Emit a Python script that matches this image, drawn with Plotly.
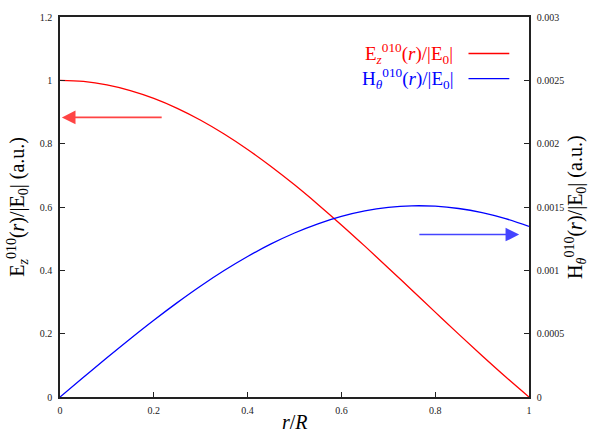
import plotly.graph_objects as go

# Radial profiles of the TM010 mode across the cavity radius
r_over_R = [0.0, 0.05, 0.10, 0.15, 0.20, 0.25, 0.30, 0.35, 0.40, 0.45, 0.50,
            0.55, 0.60, 0.65, 0.70, 0.75, 0.80, 0.85, 0.90, 0.95, 1.0]
ez = [1.0, 0.9964, 0.9856, 0.9677, 0.9430, 0.9117, 0.8741, 0.8306, 0.7817,
      0.7280, 0.6700, 0.6082, 0.5435, 0.4764, 0.4076, 0.3379, 0.2680, 0.1985,
      0.1303, 0.0639, 0.0]
h_theta = [0.0, 0.0001557, 0.0003098, 0.0004605, 0.0006062, 0.0007453,
           0.0008765, 0.0009982, 0.0011092, 0.0012084, 0.0012947, 0.0013672,
           0.0014254, 0.0014687, 0.0014966, 0.0015092, 0.0015063, 0.0014882,
           0.0014553, 0.0014080, 0.0013472]

x_ticks = [0, 0.2, 0.4, 0.6, 0.8, 1]
x_tick_text = ["0", "0.2", "0.4", "0.6", "0.8", "1"]
y1_ticks = [0, 0.2, 0.4, 0.6, 0.8, 1.0, 1.2]
y1_tick_text = ["0", "0.2", "0.4", "0.6", "0.8", "1", "1.2"]
y2_ticks = [0, 0.0005, 0.001, 0.0015, 0.002, 0.0025, 0.003]
y2_tick_text = ["0", "0.0005", "0.001", "0.0015", "0.002", "0.0025", "0.003"]

FONT = "Liberation Serif, Times New Roman, serif"
AXIS_COLOR = "#222222"

fig = go.Figure()
fig.add_trace(go.Scatter(x=r_over_R, y=ez, mode="lines", line_shape="spline",
                         line=dict(color="#ff0000", width=1.3), yaxis="y",
                         showlegend=False))
fig.add_trace(go.Scatter(x=r_over_R, y=h_theta, mode="lines", line_shape="spline",
                         line=dict(color="#0000ff", width=1.3), yaxis="y2",
                         showlegend=False))

fig.update_layout(
    width=593, height=434,
    margin=dict(l=60, r=64, t=11, b=37),
    paper_bgcolor="white", plot_bgcolor="white",
    font=dict(family=FONT, size=10, color="#222222"),
    xaxis=dict(range=[0, 1], tickvals=x_ticks, ticktext=x_tick_text,
               ticks="inside", ticklen=5, tickcolor=AXIS_COLOR, tickwidth=1,
               showline=True, linecolor=AXIS_COLOR, linewidth=1.5, mirror=True,
               showgrid=False, zeroline=False, fixedrange=True,
               ticklabelstandoff=3),
    yaxis=dict(range=[0, 1.2], tickvals=y1_ticks, ticktext=y1_tick_text,
               ticks="inside", ticklen=5, tickcolor=AXIS_COLOR, tickwidth=1,
               showline=True, linecolor=AXIS_COLOR, linewidth=1.5,
               showgrid=False, zeroline=False, ticklabelstandoff=4),
    yaxis2=dict(range=[0, 0.003], tickvals=y2_ticks, ticktext=y2_tick_text,
                overlaying="y", side="right",
                ticks="inside", ticklen=5, tickcolor=AXIS_COLOR, tickwidth=1,
                showline=True, linecolor=AXIS_COLOR, linewidth=1.5,
                showgrid=False, zeroline=False, ticklabelstandoff=4),
)

title_font = dict(family=FONT, size=20, color="black")

# Axis titles
fig.add_annotation(text="<i>r</i>/<i>R</i>", xref="paper", yref="paper",
                   x=0.5, y=-0.066, xanchor="center", yanchor="middle",
                   showarrow=False, font=title_font)
fig.add_annotation(text="E<sub><i>z</i></sub><sup>010</sup>(<i>r</i>)/|E<sub>0</sub>| (a.u.)",
                   xref="paper", yref="paper", x=-0.09, y=0.5,
                   xanchor="center", yanchor="middle", textangle=-90,
                   showarrow=False, font=title_font)
fig.add_annotation(text="H<sub><i>θ</i></sub><sup>010</sup>(<i>r</i>)/|E<sub>0</sub>| (a.u.)",
                   xref="paper", yref="paper", x=1.1, y=0.5,
                   xanchor="center", yanchor="middle", textangle=-90,
                   showarrow=False, font=title_font)

# Key: labels to the left of short line samples
key = [("E<sub><i>z</i></sub><sup>010</sup>(<i>r</i>)/|E<sub>0</sub>|", "#ff0000", 0.904),
       ("H<sub><i>θ</i></sub><sup>010</sup>(<i>r</i>)/|E<sub>0</sub>|", "#0000ff", 0.838)]
for label, color, yk in key:
    fig.add_annotation(text=label, xref="paper", yref="paper", x=0.842, y=yk,
                       xanchor="right", yanchor="middle", showarrow=False,
                       font=dict(family=FONT, size=19, color=color))
    fig.add_shape(type="line", xref="paper", yref="paper",
                  x0=0.871, x1=0.958, y0=yk, y1=yk,
                  line=dict(color=color, width=1.3))

# Arrows pointing to the axis each curve belongs to
fig.add_annotation(xref="x", yref="y", x=0.004, y=0.883,
                   axref="x", ayref="y", ax=0.22, ay=0.883,
                   text="", showarrow=True, arrowhead=2, arrowsize=1.7,
                   arrowwidth=1.6, arrowcolor="#ff4444")
fig.add_annotation(xref="x", yref="y", x=0.979, y=0.513,
                   axref="x", ayref="y", ax=0.763, ay=0.513,
                   text="", showarrow=True, arrowhead=2, arrowsize=1.7,
                   arrowwidth=1.6, arrowcolor="#4444ff")

fig.write_html("out.html")
